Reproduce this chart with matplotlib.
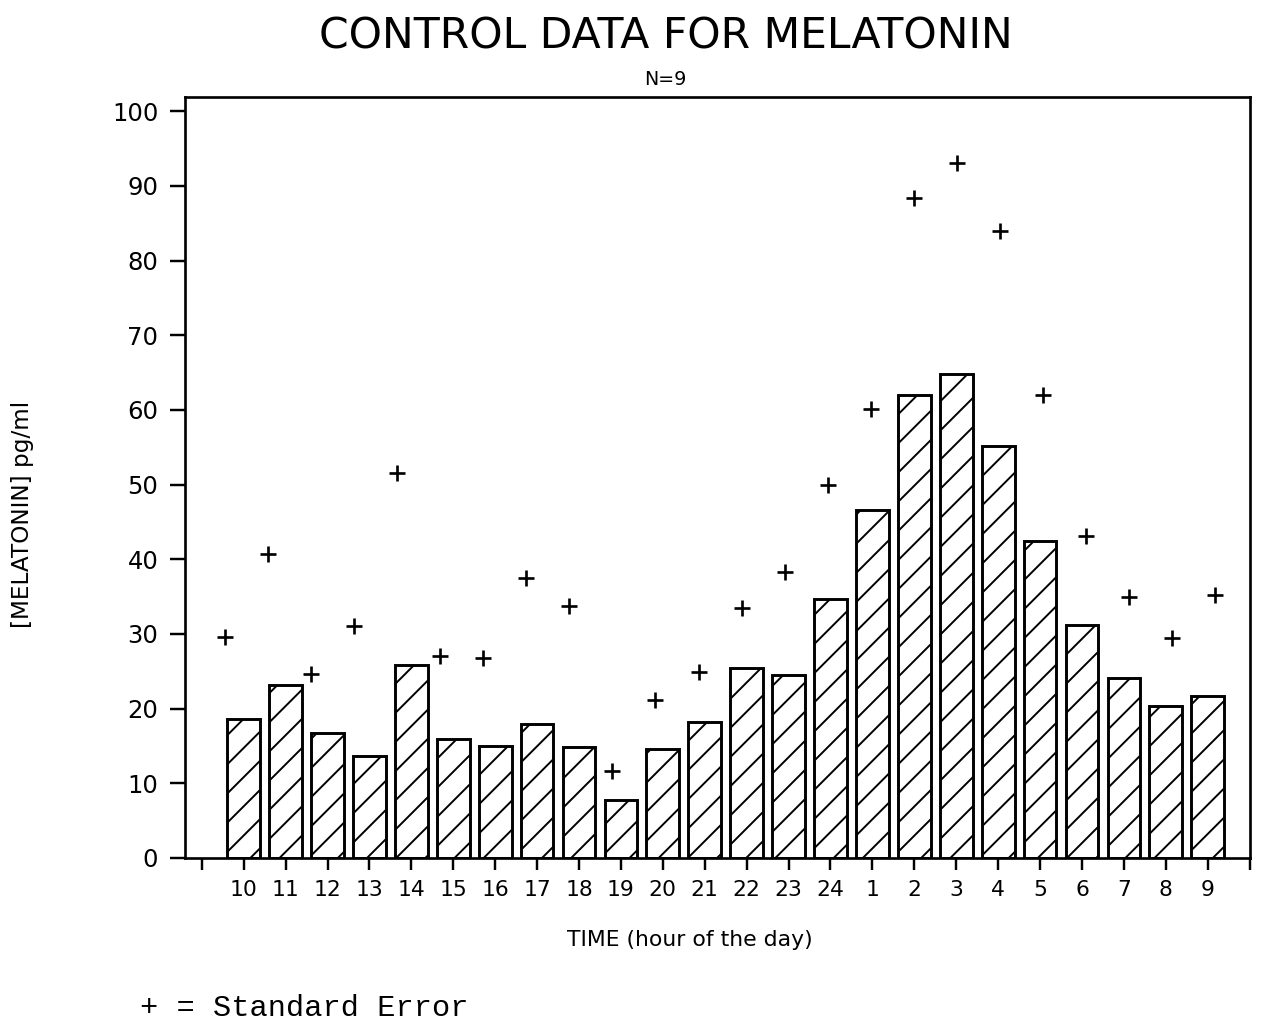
import matplotlib.pyplot as plt
import numpy as np

# hour of the day, starting at 10 in the morning
hours = ['10', '11', '12', '13', '14', '15', '16', '17', '18', '19', '20', '21',
         '22', '23', '24', '1', '2', '3', '4', '5', '6', '7', '8', '9']
melatonin = [18.6, 23.2, 16.7, 13.7, 25.8, 15.9, 15.0, 17.9, 14.9, 7.8, 14.6, 18.2,
             25.4, 24.5, 34.7, 46.6, 62.0, 64.8, 55.1, 42.5, 31.2, 24.1, 20.3, 21.7]
std_error = [29.6, 40.7, 24.7, 31.0, 51.5, 27.0, 26.8, 37.5, 33.8, 11.6, 21.1, 24.9,
             33.5, 38.3, 49.9, 60.1, 88.4, 93.0, 83.9, 62.0, 43.1, 35.0, 29.4, 35.2]

plt.rcParams['font.family'] = 'DejaVu Sans'
plt.rcParams['hatch.linewidth'] = 0.8
plt.rcParams['hatch.color'] = 'black'

DPI = 175
fig = plt.figure(figsize=(1261 / DPI, 1023 / DPI), dpi=DPI)
ax = fig.add_axes([0.1467, 0.1613, 0.8443, 0.7439])

x = np.arange(1, len(hours) + 1)
ax.bar(x, melatonin, width=0.78, color='white', edgecolor='black',
       linewidth=1.2, hatch='//')

# the + marks sit a little off the bars
se_x = x + np.linspace(-0.45, 0.18, len(hours))
ax.plot(se_x, std_error, linestyle='none', marker='+', markersize=6.5,
        markeredgewidth=1.1, color='black')

ax.set_xlim(-0.4, 25)
ax.set_ylim(0, 101.9)
ax.set_xticks(np.arange(0, len(hours) + 2))
ax.set_xticklabels([''] + hours + [''], fontsize=9)
ax.set_yticks(range(0, 101, 10))
ax.tick_params(axis='y', direction='out', length=6, width=1.0, pad=5, labelsize=10)
ax.tick_params(axis='x', direction='out', length=5, width=1.0, pad=4)
for s in ax.spines.values():
    s.set_linewidth(1.1)

fig.text(0.528, 0.964, 'CONTROL DATA FOR MELATONIN', ha='center', va='center',
         fontsize=17.5)
fig.text(0.528, 0.922, 'N=9', ha='center', va='center', fontsize=7.8)
fig.text(0.547, 0.081, 'TIME (hour of the day)', ha='center', va='center', fontsize=9)
fig.text(0.0175, 0.497, '[MELATONIN] pg/ml', ha='center', va='center',
         rotation=90, fontsize=9.5)
fig.text(0.111, 0.0147, '+ = Standard Error', ha='left', va='center',
         fontsize=12.5, family='Liberation Mono')

fig.savefig('out.png', dpi=DPI)
